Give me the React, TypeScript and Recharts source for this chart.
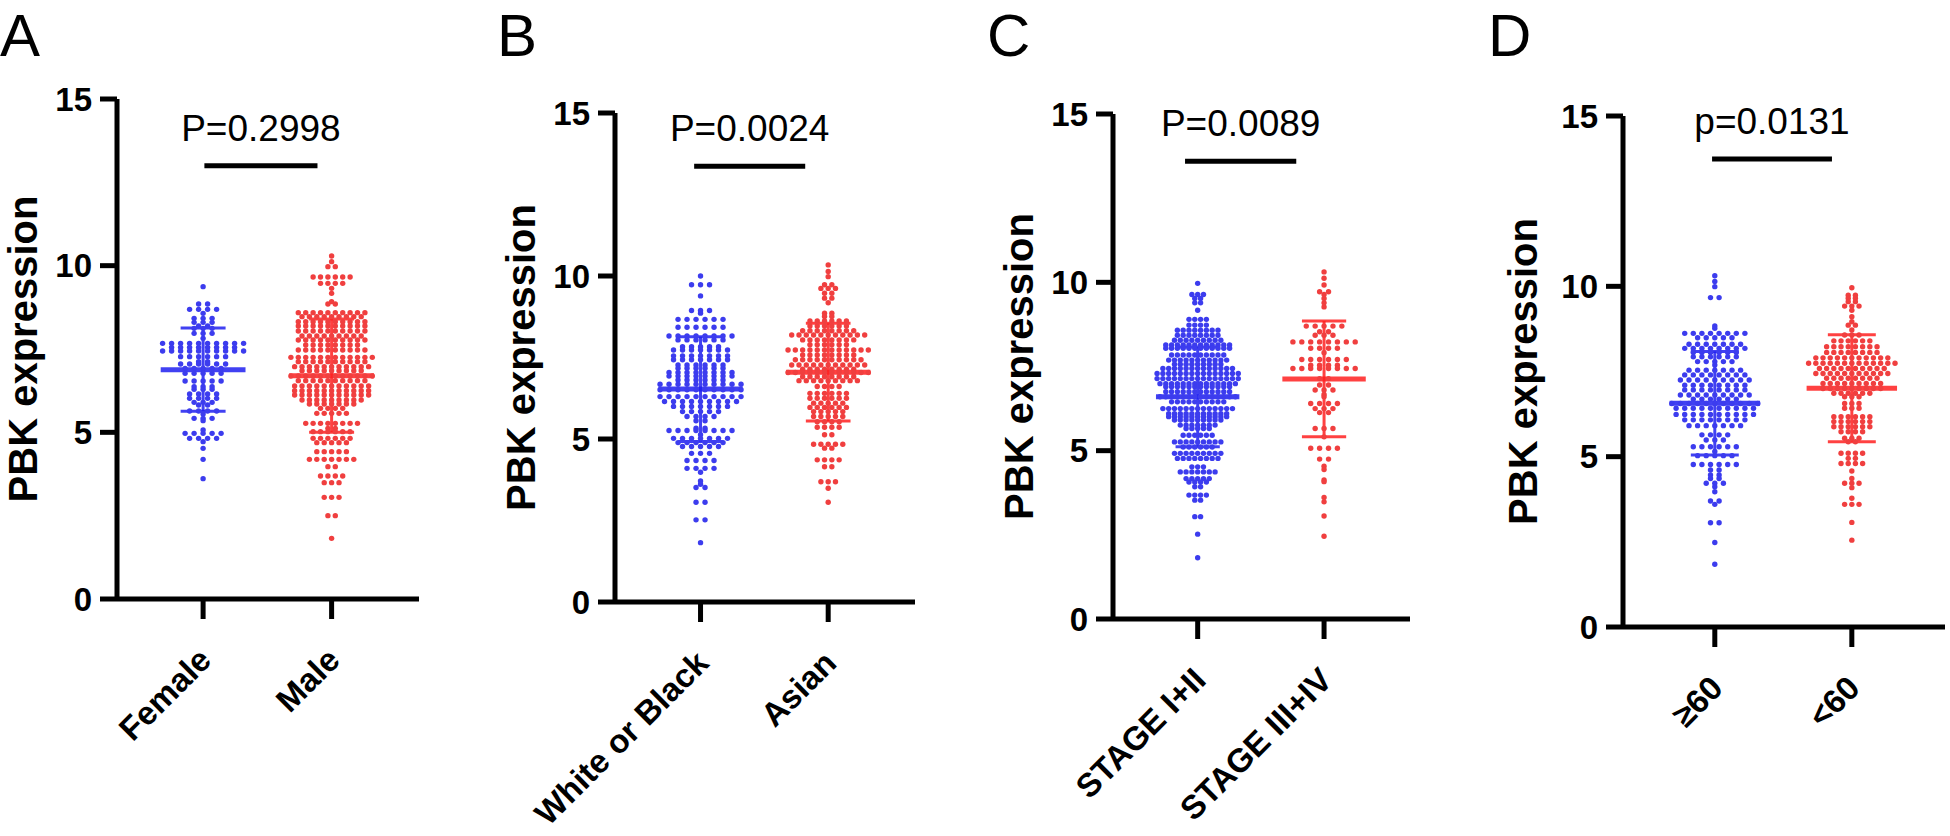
import React from 'react';
import { ScatterChart, Scatter, XAxis, YAxis, ReferenceLine } from 'recharts';

// each row: [PBK expression level, number of dots drawn side by side at that level]
type Row = [number, number];

const FONT = '"Liberation Sans", Arial, Helvetica, sans-serif';
const BLUE = '#3c3cee';
const RED = '#f03f3f';
const BLUE_BAR = '#2020f0';
const RED_BAR = '#ff2020';

const yTicks = [0, 5, 10, 15];

// A - gender
const categoriesA = ['Female', 'Male'];
const femaleRows: Row[] = [
  [9.37, 1], [8.85, 2], [8.69, 4], [8.57, 1], [8.42, 3], [8.3, 3], [8.19, 2], [8.12, 3], [7.97, 3], [7.82, 1],
  [7.67, 10], [7.55, 8], [7.44, 10], [7.27, 6], [7.12, 2], [7.05, 6], [6.92, 5], [6.77, 5], [6.54, 5], [6.37, 3],
  [6.29, 3], [6.15, 4], [6.02, 4], [5.9, 3], [5.82, 2], [5.64, 4], [5.55, 1], [5.42, 3], [5.35, 1], [5.07, 1],
  [4.97, 5], [4.82, 4], [4.72, 1], [4.52, 1], [4.19, 1], [3.61, 1],
];
const maleRows: Row[] = [
  [10.29, 1], [10.12, 1], [9.97, 2], [9.66, 6], [9.47, 4], [9.32, 1], [9.17, 1], [8.92, 1], [8.85, 2], [8.59, 10],
  [8.47, 9], [8.32, 10], [8.19, 10], [8.04, 10], [7.89, 9], [7.77, 10], [7.62, 8], [7.47, 10], [7.25, 12], [7.12, 10],
  [6.97, 11], [6.85, 9], [6.69, 12], [6.55, 10], [6.39, 11], [6.25, 11], [6.12, 11], [5.97, 9], [5.85, 7], [5.72, 4],
  [5.57, 5], [5.27, 8], [5.12, 2], [5.02, 6], [4.82, 6], [4.69, 5], [4.42, 5], [4.19, 7], [3.97, 2], [3.69, 4],
  [3.49, 3], [3.05, 3], [2.5, 2], [1.82, 1],
];
const meansA = [6.88, 6.7];
const sdsA = [1.25, 1.7];

// B - race
const categoriesB = ['White or Black', 'Asian'];
const whiteBlackRows: Row[] = [
  [10.0, 1], [9.73, 3], [9.39, 1], [8.94, 3], [8.86, 1], [8.67, 6], [8.43, 6], [8.16, 8], [8.04, 6], [7.83, 5],
  [7.73, 7], [7.55, 7], [7.43, 7], [7.27, 6], [7.17, 6], [7.04, 8], [6.93, 8], [6.81, 6], [6.68, 10], [6.51, 10],
  [6.3, 10], [6.15, 9], [6.0, 7], [5.84, 5], [5.69, 4], [5.56, 2], [5.33, 2], [5.26, 8], [5.13, 1], [5.02, 7],
  [4.89, 6], [4.77, 5], [4.56, 3], [4.34, 4], [4.1, 4], [3.98, 1], [3.71, 1], [3.61, 1], [3.51, 2], [3.06, 2],
  [2.52, 2], [1.82, 1],
];
const asianRows: Row[] = [
  [10.34, 1], [10.14, 1], [9.98, 1], [9.73, 2], [9.62, 3], [9.47, 2], [9.32, 2], [9.18, 1], [8.86, 2], [8.76, 2],
  [8.62, 6], [8.47, 6], [8.32, 8], [8.19, 11], [8.04, 8], [7.89, 6], [7.73, 12], [7.58, 8], [7.43, 10], [7.27, 11],
  [7.14, 8], [7.04, 12], [6.91, 8], [6.79, 9], [6.61, 4], [6.4, 6], [6.25, 6], [6.1, 5], [5.97, 6], [5.84, 5],
  [5.69, 5], [5.53, 4], [5.36, 4], [5.13, 2], [4.84, 5], [4.72, 2], [4.36, 4], [4.15, 2], [3.69, 3], [3.49, 1],
  [3.06, 1],
];
const meansB = [6.53, 7.05];
const sdsB = [1.61, 1.5];

// C - stage
const categoriesC = ['STAGE I+II', 'STAGE III+IV'];
const stage12Rows: Row[] = [
  [9.97, 1], [9.64, 3], [9.52, 2], [9.39, 2], [9.17, 1], [8.9, 4], [8.73, 4], [8.58, 8], [8.43, 8], [8.28, 9],
  [8.14, 12], [8.04, 12], [7.84, 10], [7.69, 11], [7.57, 9], [7.44, 13], [7.29, 15], [7.14, 15], [6.99, 14], [6.9, 12],
  [6.75, 12], [6.6, 14], [6.45, 10], [6.25, 13], [6.1, 11], [6.01, 11], [5.91, 9], [5.76, 7], [5.66, 5], [5.46, 6],
  [5.26, 9], [5.11, 6], [4.92, 9], [4.77, 8], [4.52, 3], [4.37, 7], [4.17, 5], [4.07, 4], [3.93, 2], [3.68, 4],
  [3.53, 2], [3.04, 2], [2.52, 1], [1.82, 1],
];
const stage34Rows: Row[] = [
  [10.31, 1], [10.12, 1], [9.92, 1], [9.72, 2], [9.64, 1], [9.52, 1], [9.39, 1], [9.27, 1], [8.7, 5], [8.53, 2],
  [8.43, 3], [8.23, 8], [8.04, 4], [7.91, 1], [7.71, 6], [7.54, 4], [7.44, 8], [7.14, 2], [6.95, 2], [6.8, 3],
  [6.67, 1], [6.6, 1], [6.4, 4], [6.25, 3], [6.13, 2], [5.66, 3], [5.41, 1], [5.07, 4], [4.75, 2], [4.54, 1],
  [4.44, 1], [4.13, 1], [4.08, 1], [3.61, 1], [3.48, 1], [3.06, 1], [2.46, 1],
];
const meansC = [6.6, 7.13];
const sdsC = [1.48, 1.72];

// D - age
const categoriesD = ['≥60', '<60'];
const age60plusRows: Row[] = [
  [10.31, 1], [10.14, 1], [9.99, 1], [9.67, 2], [8.84, 1], [8.77, 1], [8.62, 8], [8.49, 5], [8.3, 7], [8.18, 8],
  [8.06, 6], [7.93, 6], [7.79, 5], [7.69, 1], [7.54, 7], [7.4, 8], [7.25, 9], [7.1, 8], [6.96, 8], [6.81, 9],
  [6.69, 6], [6.56, 11], [6.42, 10], [6.24, 10], [6.08, 8], [5.91, 7], [5.64, 4], [5.49, 3], [5.29, 6], [5.15, 1],
  [5.03, 5], [4.77, 6], [4.61, 2], [4.46, 2], [4.36, 2], [4.22, 3], [4.12, 1], [3.97, 1], [3.7, 2], [3.6, 1],
  [3.06, 2], [2.48, 1], [1.84, 1],
];
const age60minusRows: Row[] = [
  [9.96, 1], [9.74, 2], [9.65, 2], [9.55, 2], [9.42, 3], [9.3, 1], [9.11, 1], [8.96, 1], [8.86, 2], [8.72, 1],
  [8.57, 3], [8.4, 6], [8.23, 8], [8.06, 8], [7.9, 11], [7.74, 13], [7.59, 10], [7.44, 11], [7.3, 8], [7.15, 9],
  [7.0, 9], [6.86, 6], [6.76, 3], [6.56, 3], [6.42, 3], [6.17, 6], [6.03, 6], [5.88, 6], [5.73, 4], [5.54, 3],
  [5.44, 2], [5.1, 4], [4.95, 2], [4.8, 4], [4.58, 1], [4.36, 1], [4.22, 3], [4.09, 1], [3.78, 1], [3.6, 3],
  [3.07, 1], [2.55, 1],
];
const meansD = [6.57, 7.01];
const sdsD = [1.52, 1.57];

const pLabels = ['P=0.2998', 'P=0.0024', 'P=0.0089', 'p=0.0131'];

const X_DOMAIN: [number, number] = [0.33, 2.68];

const panels = [
  { letter: 'A', letterX: 0, left: 0, plotLeft: 117, plotRight: 419, plotTop: 99, plotBottom: 599, titleGap: 80,
    categories: categoriesA, rows: [femaleRows, maleRows], steps: [9, 7.4], means: meansA, sds: sdsA,
    p: pLabels[0], bar: [1.01, 1.89, 13.0] },
  { letter: 'B', letterX: 497, left: 490, plotLeft: 615, plotRight: 915, plotTop: 113, plotBottom: 602, titleGap: 80,
    categories: categoriesB, rows: [whiteBlackRows, asianRows], steps: [9, 7.3], means: meansB, sds: sdsB,
    p: pLabels[1], bar: [0.95, 1.82, 13.37] },
  { letter: 'C', letterX: 987, left: 980, plotLeft: 1113, plotRight: 1410, plotTop: 114, plotBottom: 619, titleGap: 80,
    categories: categoriesC, rows: [stage12Rows, stage34Rows], steps: [5.8, 8.9], means: meansC, sds: sdsC,
    p: pLabels[2], bar: [0.9, 1.78, 13.6] },
  { letter: 'D', letterX: 1488, left: 1460, plotLeft: 1623, plotRight: 1945, plotTop: 116, plotBottom: 627, titleGap: 86,
    categories: categoriesD, rows: [age60plusRows, age60minusRows], steps: [8.6, 7.2], means: meansD, sds: sdsD,
    p: pLabels[3], bar: [0.98, 1.855, 13.74] },
];

// dots of one level sit side by side, centred on the category
const layoutRows = (rows: Row[], center: number, step: number) =>
  rows.flatMap(([value, n]) =>
    Array.from({ length: n }, (_, i) => ({ x: center + (i - (n - 1) / 2) * step, y: value })));

const makeXTick = (labels: string[]) => (props: any) => {
  const { x, y, payload } = props;
  const label = labels[Math.round(payload.value) - 1] || '';
  return (
    <g transform={`translate(${x + 10},${y + 41})`}>
      <text textAnchor="end" transform="rotate(-45)" fontSize={33} fontWeight="bold" fontFamily={FONT} fill="#000">
        {label}
      </text>
    </g>
  );
};

const Panel = ({ cfg }: { cfg: (typeof panels)[number] }) => {
  const width = cfg.plotRight - cfg.left + 4;
  const pxPerUnit = (cfg.plotRight - cfg.plotLeft) / (X_DOMAIN[1] - X_DOMAIN[0]);
  const colors = [BLUE, RED];
  const barColors = [BLUE_BAR, RED_BAR];
  const [bx1, bx2, by] = cfg.bar;

  const lines: React.ReactElement[] = [];
  [0, 1].forEach((g) => {
    const cx = g + 1;
    const m = cfg.means[g];
    const sd = cfg.sds[g];
    const c = barColors[g];
    lines.push(
      <ReferenceLine key={`v${g}`} segment={[{ x: cx, y: m - sd }, { x: cx, y: m + sd }]} stroke={c} strokeWidth={3} strokeOpacity={0.85} />,
      <ReferenceLine key={`u${g}`} segment={[{ x: cx - 0.175, y: m + sd }, { x: cx + 0.175, y: m + sd }]} stroke={c} strokeWidth={3} strokeOpacity={0.85} />,
      <ReferenceLine key={`l${g}`} segment={[{ x: cx - 0.175, y: m - sd }, { x: cx + 0.175, y: m - sd }]} stroke={c} strokeWidth={3} strokeOpacity={0.85} />,
      <ReferenceLine key={`m${g}`} segment={[{ x: cx - 0.33, y: m }, { x: cx + 0.33, y: m }]} stroke={c} strokeWidth={5} strokeOpacity={0.85} />,
    );
  });

  return (
    <div style={{ position: 'absolute', left: cfg.left, top: 0 }}>
      <ScatterChart
        width={width}
        height={836}
        margin={{ top: cfg.plotTop, right: 4, bottom: 0, left: 0 }}
      >
        <XAxis
          type="number"
          dataKey="x"
          domain={X_DOMAIN}
          ticks={[1, 2]}
          interval={0}
          height={836 - cfg.plotBottom}
          axisLine={{ stroke: '#000', strokeWidth: 5 }}
          tickLine={{ stroke: '#000', strokeWidth: 5 }}
          tickSize={20}
          tick={makeXTick(cfg.categories)}
        />
        <YAxis
          type="number"
          dataKey="y"
          domain={[0, 15]}
          ticks={yTicks}
          interval={0}
          width={cfg.plotLeft - cfg.left}
          axisLine={{ stroke: '#000', strokeWidth: 5 }}
          tickLine={{ stroke: '#000', strokeWidth: 5 }}
          tickSize={17}
          tickMargin={8}
          tick={{ fontSize: 33, fontWeight: 'bold', fill: '#000', fontFamily: FONT }}
        />
        {cfg.rows.map((rows, g) => (
          <Scatter
            key={`s${g}`}
            data={layoutRows(rows, g + 1, cfg.steps[g] / pxPerUnit)}
            isAnimationActive={false}
            shape={(p: any) => <circle cx={p.cx} cy={p.cy} r={2.7} fill={colors[g]} />}
          />
        ))}
        {lines}
        <ReferenceLine
          segment={[{ x: bx1, y: by }, { x: bx2, y: by }]}
          stroke="#000"
          strokeWidth={5}
          label={(props: any) => {
            const vb = props.viewBox || {};
            if (vb.x == null) return null;
            return (
              <text x={vb.x + (vb.width || 0) / 2} y={vb.y - 25} textAnchor="middle" fontSize={37} fontFamily={FONT} fill="#000">
                {cfg.p}
              </text>
            );
          }}
        />
      </ScatterChart>
    </div>
  );
};

export default function App() {
  return (
    <div style={{ position: 'absolute', left: 0, top: 0, width: 1950, height: 836, background: '#fff', overflow: 'hidden' }}>
      {panels.map((cfg) => (
        <Panel key={cfg.letter} cfg={cfg} />
      ))}
      <svg width={1950} height={836} style={{ position: 'absolute', left: 0, top: 0, pointerEvents: 'none' }}>
        {panels.map((cfg) => (
          <g key={cfg.letter}>
            <text x={cfg.letterX} y={56} fontSize={60} fontFamily={FONT} fill="#000">{cfg.letter}</text>
            <text
              transform={`translate(${cfg.plotLeft - cfg.titleGap},${(cfg.plotTop + cfg.plotBottom) / 2}) rotate(-90)`}
              textAnchor="middle"
              fontSize={40}
              fontWeight="bold"
              fontFamily={FONT}
              fill="#000"
            >
              PBK expression
            </text>
          </g>
        ))}
      </svg>
    </div>
  );
}
